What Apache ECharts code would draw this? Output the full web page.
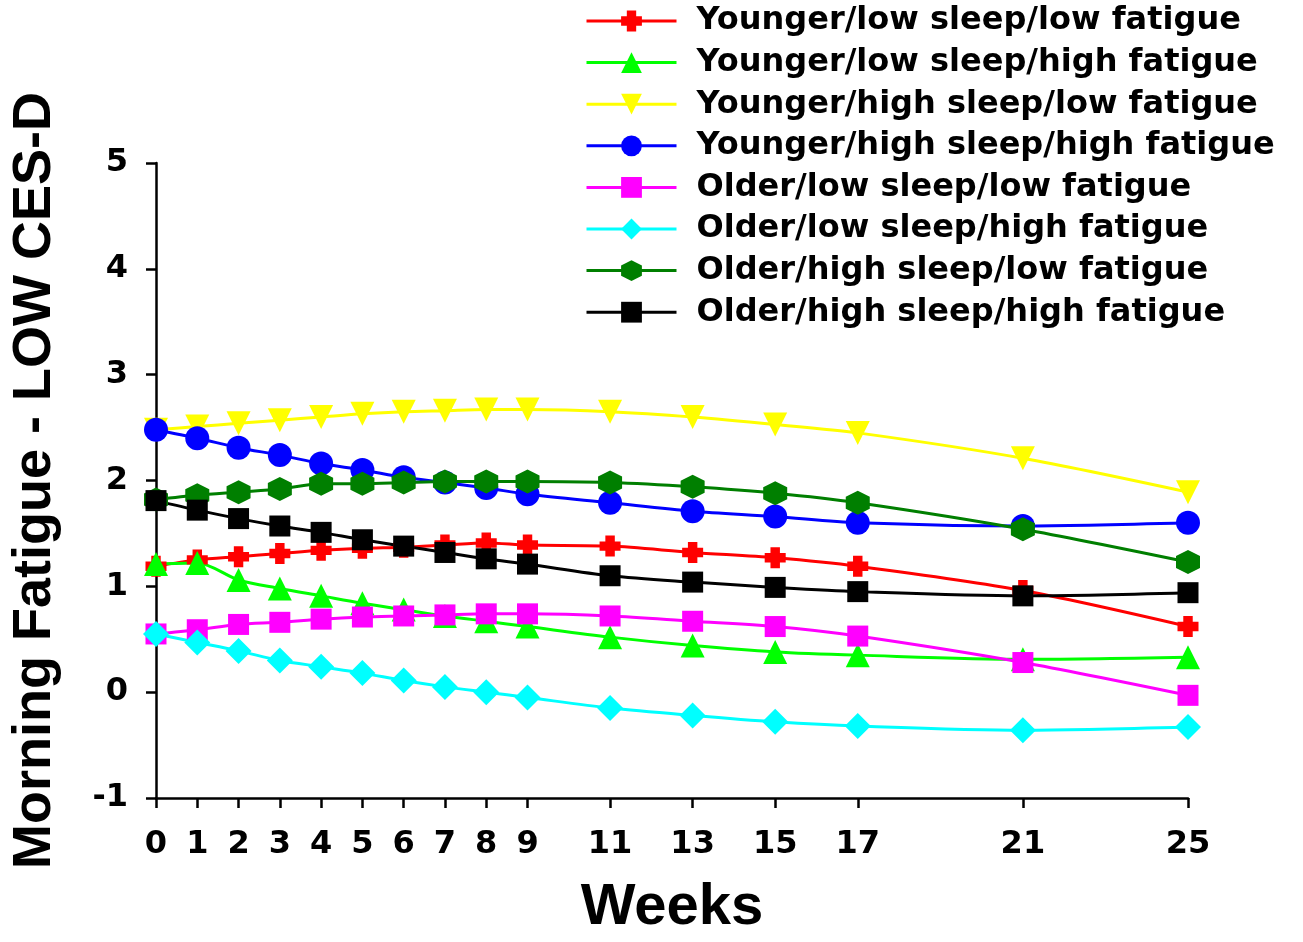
<!DOCTYPE html>
<html>
<head>
<meta charset="utf-8">
<script src="https://cdn.jsdelivr.net/npm/echarts@6/dist/echarts.min.js"></script>
<style>
html,body{margin:0;padding:0;background:#fff;}
#chart{width:1303px;height:942px;}
</style>
</head>
<body>
<div id="chart"></div>
<script>
const weeks = [0, 1, 2, 3, 4, 5, 6, 7, 8, 9, 11, 13, 15, 17, 21, 25];
const xTickLabels = [0, 1, 2, 3, 4, 5, 6, 7, 8, 9, 11, 13, 15, 17, 21, 25];
const yTickLabels = [-1, 0, 1, 2, 3, 4, 5];

const seriesNames = [
  'Younger/low sleep/low fatigue',
  'Younger/low sleep/high fatigue',
  'Younger/high sleep/low fatigue',
  'Younger/high sleep/high fatigue',
  'Older/low sleep/low fatigue',
  'Older/low sleep/high fatigue',
  'Older/high sleep/low fatigue',
  'Older/high sleep/high fatigue'
];

const youngerLowSleepLowFatigue   = [1.19, 1.25, 1.28, 1.31, 1.34, 1.36, 1.37, 1.39, 1.41, 1.39, 1.38, 1.32, 1.27, 1.19, 0.96, 0.62];
const youngerLowSleepHighFatigue  = [1.21, 1.22, 1.06, 0.98, 0.91, 0.84, 0.78, 0.72, 0.67, 0.62, 0.52, 0.44, 0.38, 0.35, 0.31, 0.33];
const youngerHighSleepLowFatigue  = [2.48, 2.51, 2.54, 2.57, 2.60, 2.63, 2.65, 2.66, 2.67, 2.67, 2.65, 2.60, 2.53, 2.45, 2.21, 1.89];
const youngerHighSleepHighFatigue = [2.48, 2.40, 2.31, 2.24, 2.16, 2.10, 2.03, 1.98, 1.93, 1.87, 1.79, 1.71, 1.66, 1.60, 1.57, 1.60];
const olderLowSleepLowFatigue     = [0.55, 0.59, 0.64, 0.66, 0.69, 0.71, 0.72, 0.73, 0.74, 0.74, 0.72, 0.67, 0.62, 0.53, 0.28, -0.03];
const olderLowSleepHighFatigue    = [0.55, 0.47, 0.39, 0.30, 0.24, 0.18, 0.11, 0.05, 0.00, -0.05, -0.15, -0.22, -0.28, -0.32, -0.36, -0.33];
const olderHighSleepLowFatigue    = [1.82, 1.86, 1.89, 1.92, 1.97, 1.97, 1.98, 1.99, 1.99, 1.99, 1.98, 1.94, 1.88, 1.79, 1.54, 1.23];
const olderHighSleepHighFatigue   = [1.81, 1.72, 1.64, 1.57, 1.51, 1.44, 1.38, 1.32, 1.26, 1.21, 1.10, 1.04, 0.99, 0.95, 0.91, 0.94];

const seriesValues = [
  youngerLowSleepLowFatigue, youngerLowSleepHighFatigue,
  youngerHighSleepLowFatigue, youngerHighSleepHighFatigue,
  olderLowSleepLowFatigue, olderLowSleepHighFatigue,
  olderHighSleepLowFatigue, olderHighSleepHighFatigue
];

const colors = ['#ff0000', '#00ff00', '#ffff00', '#0000ff', '#ff00ff', '#00ffff', '#007f00', '#000000'];
const plusPath = 'path://M-4.5,-10 H4.5 V-4.5 H10 V4.5 H4.5 V10 H-4.5 V4.5 H-10 V-4.5 H-4.5 Z';
const hexPath = 'path://M0,-10 L8.66,-5 L8.66,5 L0,10 L-8.66,5 L-8.66,-5 Z';
const symbols = [plusPath, 'triangle', 'triangle', 'circle', 'rect', 'diamond', hexPath, 'rect'];
const symbolRotates = [0, 0, 180, 0, 0, 0, 0, 0];
const symbolSizes = [21, 24, 24, 24, 21, 26, 24, 21];

const chart = echarts.init(document.getElementById('chart'));

const series = seriesNames.map((name, i) => ({
  name: name,
  type: 'line',
  smooth: 0.3,
  data: weeks.map((w, j) => [w, seriesValues[i][j]]),
  symbol: symbols[i],
  symbolRotate: symbolRotates[i],
  symbolSize: symbolSizes[i],
  lineStyle: { color: colors[i], width: 3 },
  itemStyle: { color: colors[i], borderWidth: 0 },
  emphasis: { disabled: true }
}));

chart.setOption({
  backgroundColor: '#ffffff',
  animation: false,
  legend: {
    orient: 'vertical',
    left: 580,
    top: 0,
    itemWidth: 90,
    itemHeight: 26,
    itemGap: 9.6,
    selectedMode: false,
    lineStyle: { width: 3 },
    textStyle: {
      fontFamily: 'DejaVu Sans',
      fontWeight: 'bold',
      fontSize: 32,
      lineHeight: 32,
      color: '#000',
      padding: [0, 0, 0, 15]
    },
    data: seriesNames
  },
  grid: { left: 156, right: 115, top: 163, bottom: 138, containLabel: false },
  xAxis: {
    type: 'value',
    min: 0,
    max: 25,
    name: 'Weeks',
    nameLocation: 'middle',
    nameGap: 81,
    nameTextStyle: { fontFamily: 'Liberation Sans', fontWeight: 'bold', fontSize: 58, color: '#000' },
    axisLine: { show: true, onZero: false, lineStyle: { color: '#000', width: 2.5 } },
    axisTick: { show: true, length: 10, lineStyle: { color: '#000', width: 2.5 }, customValues: xTickLabels },
    axisLabel: {
      margin: 31,
      customValues: xTickLabels,
      fontFamily: 'DejaVu Sans', fontWeight: 'bold', fontSize: 32, color: '#000'
    },
    splitLine: { show: false }
  },
  yAxis: {
    type: 'value',
    min: -1,
    max: 5,
    interval: 1,
    name: 'Morning Fatigue - LOW CES-D',
    nameLocation: 'middle',
    nameGap: 94,
    nameTextStyle: { fontFamily: 'Liberation Sans', fontWeight: 'bold', fontSize: 54, color: '#000' },
    axisLine: { show: true, onZero: false, lineStyle: { color: '#000', width: 2.5 } },
    axisTick: { show: true, length: 10, lineStyle: { color: '#000', width: 2.5 } },
    axisLabel: {
      margin: 28,
      customValues: yTickLabels,
      fontFamily: 'DejaVu Sans', fontWeight: 'bold', fontSize: 32, color: '#000'
    },
    splitLine: { show: false }
  },
  series: series
});
</script>
</body>
</html>
